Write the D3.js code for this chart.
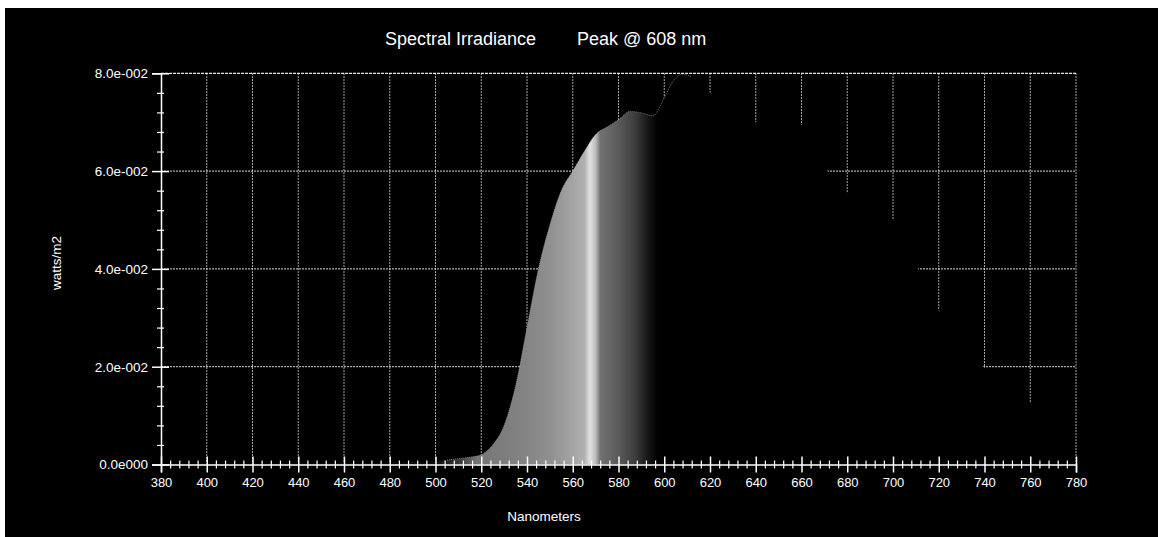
<!DOCTYPE html>
<html>
<head>
<meta charset="utf-8">
<script src="https://cdn.jsdelivr.net/npm/d3@7"></script>
<style>
  html, body { margin: 0; padding: 0; background: #fff; }
  svg { display: block; }
  text { font-family: "Liberation Sans", Arial, sans-serif; fill: #fff; }
</style>
</head>
<body>
<svg id="chart" width="1158" height="537"></svg>
<script>
// ---- data ----
const wavelengths = [380,420,460,490,500,505,510,515,520,525,530,535,540,545,550,555,560,565,570,575,580,585,590,595,600,604,608,612,616,620,625,630,635,640,645,650,655,660,665,670,675,680,690,700,705,710,715,720,730,740,750,760,770,780];
const irradiance  = [0.0002,0.0002,0.0003,0.0005,0.0007,0.0009,0.0012,0.0015,0.002,0.004,0.008,0.016,0.028,0.040,0.049,0.056,0.060,0.064,0.0675,0.069,0.0705,0.0722,0.0719,0.0713,0.075,0.0785,0.0798,0.0793,0.078,0.076,0.074,0.0722,0.0708,0.070,0.0700,0.0703,0.0705,0.0695,0.066,0.061,0.058,0.0555,0.0525,0.0500,0.046,0.041,0.036,0.0315,0.025,0.0198,0.016,0.0126,0.0095,0.007];
const xMajorTicks = [380,400,420,440,460,480,500,520,540,560,580,600,620,640,660,680,700,720,740,760,780];
const yMajorTicks = [0, 0.02, 0.04, 0.06, 0.08];
const yTickLabels = ["0.0e000","2.0e-002","4.0e-002","6.0e-002","8.0e-002"];
// grey rendering of the spectral colour fill (wavelength -> grey level)
const gradWl   = [380, 500, 510, 518, 540, 550, 558, 565, 567.5, 570, 572, 580, 587, 593, 597, 780];
const gradGrey = ["#000","#0c0c0c","#363636","#767676","#848484","#909090","#a0a0a0","#b0b0b0","#e2e2e2","#bcbcbc","#727272","#5a5a5a","#3e3e3e","#161616","#000","#000"];
const titleText = "Spectral Irradiance";
const peakText = "Peak @ 608 nm";

// ---- layout ----
const svg = d3.select("#chart");
svg.append("rect").attr("x",5).attr("y",8).attr("width",1153).attr("height",529).attr("fill","#000");

const x = d3.scaleLinear().domain([380,780]).range([161,1076]);
const y = d3.scaleLinear().domain([0,0.08]).range([464.5,73.3]);

// gradient
const defs = svg.append("defs");
const grad = defs.append("linearGradient").attr("id","spec")
  .attr("gradientUnits","userSpaceOnUse")
  .attr("x1",x(380)).attr("x2",x(780)).attr("y1",0).attr("y2",0);
gradWl.forEach((w,i)=>{
  grad.append("stop").attr("offset",((w-380)/400*100)+"%").attr("stop-color",gradGrey[i]);
});

// gridlines (behind the fill)
const grid = svg.append("g");
xMajorTicks.filter(v=>v>380 && v<780).forEach(v=>{
  grid.append("line").attr("x1",x(v)).attr("x2",x(v)).attr("y1",y(0.08)).attr("y2",y(0))
    .attr("stroke","#fff").attr("stroke-width",1).attr("stroke-dasharray","1.5,1.5").attr("opacity",0.85);
});
yMajorTicks.filter(v=>v>0 && v<0.08).forEach(v=>{
  grid.append("line").attr("x1",x(380)).attr("x2",x(780)).attr("y1",y(v)).attr("y2",y(v))
    .attr("stroke","#fff").attr("stroke-width",1).attr("stroke-dasharray","2,1").attr("opacity",0.85);
});

// area
const data = wavelengths.map((w,i)=>({w, v: irradiance[i]}));
const area = d3.area().x(d=>x(d.w)).y0(y(0)).y1(d=>y(d.v)).curve(d3.curveMonotoneX);
svg.append("path").datum(data).attr("d",area).attr("fill","url(#spec)");

// faint outline on the visible (grey) portion
const line = d3.line().x(d=>x(d.w)).y(d=>y(d.v)).curve(d3.curveMonotoneX);
svg.append("path").datum(data.filter(d=>d.w>=505 && d.w<=612)).attr("d",line)
  .attr("fill","none").attr("stroke","#a0a0a0").attr("stroke-width",1).attr("stroke-dasharray","1,1").attr("opacity",0.7);

// top & right borders
svg.append("line").attr("x1",x(380)).attr("x2",x(780)).attr("y1",y(0.08)).attr("y2",y(0.08))
  .attr("stroke","#fff").attr("stroke-width",1.2).attr("stroke-dasharray","3,1").attr("opacity",0.9);
svg.append("line").attr("x1",x(780)).attr("x2",x(780)).attr("y1",y(0.08)).attr("y2",y(0))
  .attr("stroke","#fff").attr("stroke-width",1).attr("stroke-dasharray","1.5,1.5").attr("opacity",0.85);

// ---- axes ----
const xMinor = d3.range(380, 781, 4).filter(v=>!xMajorTicks.includes(v));
const yMinor = d3.range(0, 0.0801, 0.004).map(v=>+v.toFixed(3)).filter(v=>!yMajorTicks.some(m=>Math.abs(m-v)<1e-9));

const xAxisG = svg.append("g").attr("transform",`translate(0,${y(0)})`)
  .call(d3.axisBottom(x).tickValues(xMajorTicks).tickFormat(d3.format("d")).tickSizeOuter(0).tickSize(8).tickPadding(8));
xAxisG.select(".domain").attr("stroke","#fff").attr("stroke-width",1.5);
xAxisG.selectAll(".tick line").attr("stroke","#fff").attr("stroke-width",1.5).attr("y1",-8).attr("y2",8);
xAxisG.selectAll(".tick text").attr("fill","#fff").attr("font-size","13px")
  .attr("font-family","Liberation Sans, Arial, sans-serif").attr("dy","0.5em");

const xMinorG = svg.append("g").attr("transform",`translate(0,${y(0)})`)
  .call(d3.axisBottom(x).tickValues(xMinor).tickFormat("").tickSizeOuter(0).tickSize(4));
xMinorG.select(".domain").remove();
xMinorG.selectAll(".tick line").attr("stroke","#fff").attr("stroke-width",1.2).attr("y1",-4).attr("y2",4);

const yAxisG = svg.append("g").attr("transform",`translate(${x(380)},0)`)
  .call(d3.axisLeft(y).tickValues(yMajorTicks).tickFormat((d,i)=>yTickLabels[i]).tickSizeOuter(0).tickSize(9).tickPadding(4));
yAxisG.select(".domain").attr("stroke","#fff").attr("stroke-width",1.5);
yAxisG.selectAll(".tick line").attr("stroke","#fff").attr("stroke-width",1.5).attr("x1",-9).attr("x2",8);
yAxisG.selectAll(".tick text").attr("fill","#fff").attr("font-size","13.5px")
  .attr("font-family","Liberation Sans, Arial, sans-serif");

const yMinorG = svg.append("g").attr("transform",`translate(${x(380)},0)`)
  .call(d3.axisLeft(y).tickValues(yMinor).tickFormat("").tickSizeOuter(0).tickSize(4));
yMinorG.select(".domain").remove();
yMinorG.selectAll(".tick line").attr("stroke","#fff").attr("stroke-width",1.2).attr("x1",-4).attr("x2",3);

// ---- titles ----
svg.append("text").attr("x",385).attr("y",45).attr("font-size","18px").text(titleText);
svg.append("text").attr("x",577).attr("y",45).attr("font-size","18px").text(peakText);
svg.append("text").attr("x",544).attr("y",521).attr("text-anchor","middle").attr("font-size","13.5px").text("Nanometers");
svg.append("text").attr("transform","translate(61,263) rotate(-90)").attr("text-anchor","middle").attr("font-size","13.5px").text("watts/m2");
</script>
</body>
</html>
